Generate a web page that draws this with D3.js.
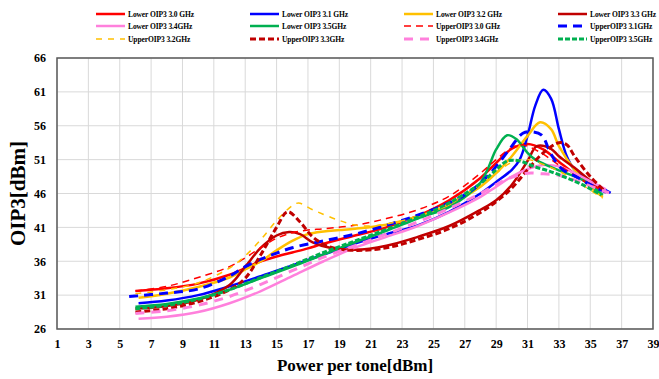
<!DOCTYPE html>
<html>
<head>
<meta charset="utf-8">
<script src="https://cdn.jsdelivr.net/npm/d3@7"></script>
<style>
  body { margin: 0; background: #fff; }
  text { font-family: "Liberation Serif", "Times New Roman", serif; font-weight: bold; fill: #000; }
</style>
</head>
<body>
<div id="chart"></div>
<script>
// tick values
const xTicks = d3.range(1, 40, 2)
const yTicks = [26, 31, 36, 41, 46, 51, 56, 61, 66]

// Lower OIP3
const lower30X = [6, 8, 10, 12, 13, 14, 15, 16, 17, 18, 20, 22, 24, 26, 28, 29, 30, 31, 32, 33, 34, 35, 36]
const lower30Y = [31.6, 32.0, 32.7, 34.0, 35.0, 36.0, 36.7, 37.3, 37.9, 38.6, 39.8, 41.0, 42.7, 45.0, 48.3, 50.5, 52.6, 53.3, 52.5, 50.7, 48.9, 47.4, 46.2]

const lower31X = [6.2, 8, 10, 12, 14, 16, 18, 20, 22, 24, 26, 28, 29, 30, 30.5, 31, 31.5, 32, 32.5, 33, 33.5, 34, 35, 36.3]
const lower31Y = [29.8, 30.2, 31.0, 32.3, 33.8, 35.4, 37.0, 38.6, 40.0, 41.3, 43.3, 46.0, 47.7, 49.5, 51.0, 54.5, 59.0, 61.3, 60.0, 55.5, 51.5, 49.5, 47.8, 46.1]

const lower32X = [6.2, 8, 10, 12, 13, 14, 15, 16, 17, 18, 19, 20, 22, 24, 26, 28, 29, 30, 31, 31.8, 32.5, 33, 34, 35, 35.8]
const lower32Y = [30.6, 31.2, 32.2, 33.6, 34.8, 36.0, 37.6, 39.0, 40.0, 40.4, 40.6, 40.8, 41.4, 42.6, 44.3, 47.0, 49.0, 51.5, 54.5, 56.5, 55.5, 53.0, 49.5, 47.0, 45.5]

const lower33X = [6, 8, 10, 12, 13, 14, 15, 15.8, 16.5, 17.3, 18.4, 20, 22, 24, 26, 28, 29, 30, 31, 31.6, 32.5, 33, 34, 35, 36]
const lower33Y = [29.0, 29.4, 30.3, 32.5, 35.2, 38.0, 39.8, 40.3, 40.0, 38.8, 38.0, 37.7, 38.3, 39.6, 41.2, 43.6, 45.0, 47.3, 50.8, 53.0, 52.6, 51.5, 49.8, 47.9, 46.2]

const lower34X = [6.2, 8, 10, 12, 14, 16, 18, 20, 22, 24, 26, 28, 29, 30, 31, 32, 33, 34, 35, 36]
const lower34Y = [27.5, 27.8, 28.5, 29.8, 31.6, 33.8, 36.0, 38.0, 39.6, 41.2, 43.2, 45.5, 47.0, 48.5, 49.6, 50.2, 50.0, 49.0, 47.8, 46.6]

const lower35X = [6, 8, 10, 12, 14, 16, 18, 20, 22, 24, 26, 27, 28, 28.5, 29, 29.7, 30.3, 31, 31.5, 32.4, 33, 34.5, 35.8]
const lower35Y = [29.3, 29.7, 30.5, 31.8, 33.5, 35.2, 37.0, 38.8, 40.5, 42.3, 44.0, 45.5, 47.6, 49.8, 52.5, 54.6, 54.0, 52.0, 51.0, 50.0, 49.4, 48.0, 45.8]

// Upper OIP3
const upper30X = [6, 8, 10, 12, 13, 14, 15, 16, 17, 18, 20, 22, 24, 26, 28, 29, 30, 30.5, 31, 32, 33, 34, 35, 36]
const upper30Y = [31.6, 32.3, 33.6, 35.2, 36.5, 38.0, 39.4, 40.2, 40.6, 40.8, 41.3, 42.3, 43.6, 45.6, 49.0, 51.0, 52.8, 53.2, 53.0, 51.8, 50.2, 48.7, 47.3, 46.3]

const upper31X = [5.6, 8, 10, 12, 13, 14, 15, 16, 18, 20, 22, 24, 26, 27, 28, 29, 30, 30.7, 31.3, 31.9, 32.5, 33.2, 34, 35, 36]
const upper31Y = [30.8, 31.3, 31.9, 33.8, 35.2, 36.3, 37.2, 38.0, 39.0, 40.0, 41.3, 42.8, 44.6, 45.8, 47.5, 50.0, 53.0, 54.9, 55.1, 54.6, 51.8, 49.6, 48.6, 47.3, 46.2]

const upper32X = [6, 8, 10, 12, 13, 14, 15, 16, 16.4, 17.3, 18.9, 20.1, 21, 22, 24, 26, 28, 29, 30, 31, 32, 33, 34, 35, 35.8]
const upper32Y = [31.2, 31.8, 32.8, 35.0, 36.8, 39.2, 42.0, 44.2, 44.6, 43.6, 42.1, 41.3, 41.2, 41.5, 42.6, 44.5, 47.3, 49.0, 50.6, 51.0, 50.3, 49.3, 48.0, 46.5, 45.3]

const upper33X = [6, 8, 10, 12, 13, 14, 15, 15.7, 16.5, 17.3, 18.4, 20, 22, 24, 26, 28, 29, 30, 31, 32, 33, 33.5, 34, 35, 36]
const upper33Y = [28.5, 29.0, 30.0, 31.8, 33.5, 37.0, 41.0, 43.3, 41.8, 39.6, 38.1, 37.6, 38.0, 39.2, 40.8, 43.2, 44.8, 46.8, 49.5, 52.0, 53.5, 53.2, 51.5, 48.5, 46.2]

const upper34X = [6, 8, 10, 12, 14, 16, 18, 20, 22, 24, 26, 28, 29, 30, 31, 32, 33, 34, 35, 36.2]
const upper34Y = [28.3, 28.7, 29.5, 30.8, 32.6, 34.6, 36.6, 38.3, 40.0, 41.8, 43.8, 46.0, 47.3, 48.4, 49.0, 48.9, 48.7, 48.0, 47.1, 46.1]

const upper35X = [6, 8, 10, 12, 14, 16, 18, 20, 22, 24, 26, 28, 29, 29.7, 30.5, 31.4, 32.5, 33.5, 34.5, 35.7]
const upper35Y = [29.0, 29.5, 30.4, 31.8, 33.6, 35.4, 37.3, 39.0, 40.7, 42.5, 44.6, 47.5, 49.5, 50.8, 50.8, 50.0, 49.2, 48.3, 47.3, 45.8]

const seriesNames = [
  'Lower OIP3 3.0 GHz', 'Lower OIP3 3.1 GHz', 'Lower OIP3 3.2 GHz', 'Lower OIP3 3.3 GHz',
  'Lower OIP3 3.4GHz', 'Lower OIP3 3.5GHz', 'UpperOIP3 3.0 GHz', 'UpperOIP3 3.1GHz',
  'UpperOIP3 3.2GHz', 'UpperOIP3 3.3GHz', 'UpperOIP3 3.4GHz', 'UpperOIP3 3.5GHz'
]

const styles = [
  { color: '#ff0000', width: 2.5, dash: null },
  { color: '#0000ff', width: 2.5, dash: null },
  { color: '#ffc000', width: 2.5, dash: null },
  { color: '#c00000', width: 2.5, dash: null },
  { color: '#ff80dc', width: 2.5, dash: null },
  { color: '#00b050', width: 2.5, dash: null },
  { color: '#ff0000', width: 1.5, dash: '7,5' },
  { color: '#0000ff', width: 3, dash: '9,6' },
  { color: '#ffc000', width: 1.5, dash: '6,6' },
  { color: '#c00000', width: 3, dash: '6,3' },
  { color: '#ff80dc', width: 3, dash: '9,7' },
  { color: '#00b050', width: 3, dash: '5,2' }
]

const xs = [lower30X, lower31X, lower32X, lower33X, lower34X, lower35X, upper30X, upper31X, upper32X, upper33X, upper34X, upper35X]
const ys = [lower30Y, lower31Y, lower32Y, lower33Y, lower34Y, lower35Y, upper30Y, upper31Y, upper32Y, upper33Y, upper34Y, upper35Y]

const series = seriesNames.map((name, i) => ({
  name,
  style: styles[i],
  points: xs[i].map((x, j) => ({ x, y: ys[i][j] }))
}))

const width = 659, height = 379
const margin = { left: 57, right: 6, top: 58, bottom: 50 }

const svg = d3.select('#chart').append('svg')
  .attr('width', width)
  .attr('height', height)

const x = d3.scaleLinear().domain([1, 39]).range([margin.left, width - margin.right])
const y = d3.scaleLinear().domain([26, 66]).range([height - margin.bottom, margin.top])

// gridlines
svg.append('g').selectAll('line')
  .data(xTicks)
  .enter().append('line')
    .attr('x1', d => x(d)).attr('x2', d => x(d))
    .attr('y1', y(26)).attr('y2', y(66))
    .attr('stroke', '#d9d9d9').attr('stroke-width', 1)

svg.append('g').selectAll('line')
  .data(yTicks)
  .enter().append('line')
    .attr('x1', x(1)).attr('x2', x(39))
    .attr('y1', d => y(d)).attr('y2', d => y(d))
    .attr('stroke', '#d9d9d9').attr('stroke-width', 1)

// plot frame
svg.append('rect')
  .attr('x', x(1)).attr('y', y(66))
  .attr('width', x(39) - x(1)).attr('height', y(26) - y(66))
  .attr('fill', 'none').attr('stroke', '#595959').attr('stroke-width', 1.5)

// axes labels
const xAxis = d3.axisBottom(x).tickValues(xTicks).tickSize(0).tickPadding(10)
svg.append('g')
  .attr('transform', `translate(0,${y(26)})`)
  .call(xAxis)
  .call(g => g.select('.domain').remove())
  .selectAll('text')
    .style('font-size', '12px')
    .style('font-family', '"Liberation Serif", serif')
    .style('font-weight', 'bold')

const yAxis = d3.axisLeft(y).tickValues(yTicks).tickSize(0).tickPadding(11)
svg.append('g')
  .attr('transform', `translate(${x(1)},0)`)
  .call(yAxis)
  .call(g => g.select('.domain').remove())
  .selectAll('text')
    .style('font-size', '12px')
    .style('font-family', '"Liberation Serif", serif')
    .style('font-weight', 'bold')

svg.append('text')
  .attr('x', (x(1) + x(39)) / 2)
  .attr('y', 371)
  .attr('text-anchor', 'middle')
  .style('font-size', '17px')
  .text('Power per tone[dBm]')

svg.append('text')
  .attr('transform', `translate(25,${(y(26) + y(66)) / 2}) rotate(-90)`)
  .attr('text-anchor', 'middle')
  .style('font-size', '21px')
  .text('OIP3[dBm]')

// curves
const line = d3.line()
  .x(d => x(d.x))
  .y(d => y(d.y))
  .curve(d3.curveCatmullRom.alpha(0.5))

svg.append('g').selectAll('path')
  .data(series)
  .enter().append('path')
    .attr('d', d => line(d.points))
    .attr('fill', 'none')
    .attr('stroke', d => d.style.color)
    .attr('stroke-width', d => d.style.width)
    .attr('stroke-dasharray', d => d.style.dash)

// legend
const legendCols = [96, 250, 404, 558]
const legendRows = [14, 26, 39]

const leg = svg.append('g').selectAll('g')
  .data(series)
  .enter().append('g')
    .attr('transform', (d, i) => `translate(${legendCols[i % 4]},${legendRows[Math.floor(i / 4)]})`)

leg.append('line')
  .attr('x1', 0).attr('x2', 29)
  .attr('y1', 0).attr('y2', 0)
  .attr('stroke', d => d.style.color)
  .attr('stroke-width', d => d.style.width)
  .attr('stroke-dasharray', d => d.style.dash)

leg.append('text')
  .attr('x', 32)
  .attr('y', 3)
  .style('font-size', '7.5px')
  .style('letter-spacing', '-0.1px')
  .text(d => d.name)
</script>
</body>
</html>
